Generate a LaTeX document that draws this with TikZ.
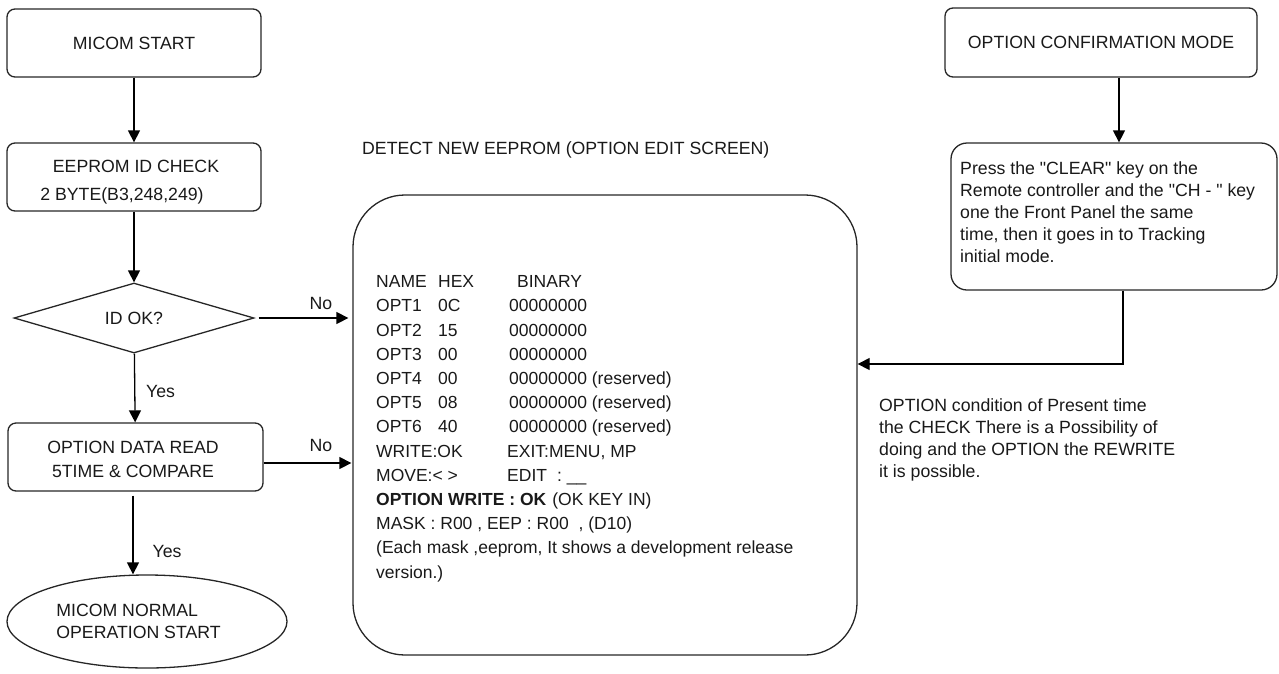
\documentclass[tikz,border=0pt]{standalone}
\usepackage{fontspec}
\setmainfont{Liberation Sans}[Ligatures=TeXOff]
\usetikzlibrary{shapes.geometric,arrows.meta,calc}
\begin{document}
\begin{tikzpicture}[x=1pt,y=-1pt,
  every node/.style={font=\fontsize{17.7}{22}\selectfont, text=black!90, inner sep=0pt},
  box/.style={draw=black!85, line width=1.3pt, rounded corners=8pt, align=center},
  conn/.style={draw=black, line width=1.3pt, -{Triangle[length=12pt,width=12pt]}},
  txt/.style={align=left}
]
\useasboundingbox (0,0) rectangle (1279,673);

% left column
\node[box, minimum width=254pt, minimum height=68pt] (start) at (134,43) {MICOM START};
\node[box, minimum width=254pt, minimum height=68pt] (eeprom) at (134,177) {};
\node[align=center] (eepromtext) at (136,182) {EEPROM ID CHECK\\[6.5pt]\hspace*{-28pt}2 BYTE(B3,248,249)};
\node[draw=black!85, line width=1.3pt, diamond, aspect=3.43, minimum width=240pt, minimum height=70pt] (dia) at (134,318) {ID OK?};
\node[box, minimum width=255pt, minimum height=68pt] (read) at (135.5,457) {};
\node[align=center] (readtext) at (133,459) {OPTION DATA READ\\[2pt]5TIME \& COMPARE};
\node[draw=black!85, line width=1.3pt, ellipse, minimum width=280pt, minimum height=93pt] (ell) at (147,621.5) {};
\node[txt] (elltext) at (138.5,621) {MICOM NORMAL\\OPERATION START};

% big screen box
\node[draw=black!85, line width=1.3pt, rounded corners=52pt, minimum width=504pt, minimum height=460pt] (big) at (605,425) {};
\node[anchor=west] (title) at (362,150) {DETECT NEW EEPROM (OPTION EDIT SCREEN)};
\node[txt, anchor=north west, font=\fontsize{17.5}{24.2}\selectfont] (screen) at (376,275.4) {%
\makebox[62pt][l]{NAME}\makebox[79pt][l]{HEX}BINARY\\
\makebox[62pt][l]{OPT1}\makebox[71pt][l]{0C}00000000\\
\makebox[62pt][l]{OPT2}\makebox[71pt][l]{15}00000000\\
\makebox[62pt][l]{OPT3}\makebox[71pt][l]{00}00000000\\
\makebox[62pt][l]{OPT4}\makebox[71pt][l]{00}00000000 (reserved)\\
\makebox[62pt][l]{OPT5}\makebox[71pt][l]{08}00000000 (reserved)\\
\makebox[62pt][l]{OPT6}\makebox[71pt][l]{40}00000000 (reserved)\\
\makebox[131pt][l]{WRITE:OK}EXIT:MENU, MP\\
\makebox[131pt][l]{MOVE:< >}EDIT\hspace{10pt}: \_\_\\
\textbf{OPTION WRITE : OK}\hspace{6pt}(OK KEY IN)\\
MASK : R00 , EEP : R00\hspace{5pt} , (D10)\\
(Each mask ,eeprom, It shows a development release\\
version.)};

% right column
\node[box, minimum width=312pt, minimum height=69pt] (conf) at (1101,42.5) {OPTION CONFIRMATION MODE};
\node[draw=black!85, line width=1.3pt, rounded corners=16pt, minimum width=326pt, minimum height=147pt] (press) at (1114,216.5) {};
\node[txt, anchor=north west] (presstext) at (960,161) {%
Press the "CLEAR" key on the\\
Remote controller and the "CH - " key\\
one the Front Panel the same\\
time, then it goes in to Tracking\\
initial mode.};
\node[txt, anchor=north west] (note) at (879,398.7) {%
OPTION condition of Present time\\
the CHECK There is a Possibility of\\
doing and the OPTION the REWRITE\\
it is possible.};

\coordinate (c1) at (1119,0);
\coordinate (c2) at (1123,364);

% connectors
\draw[conn] (start) -- (eeprom);
\draw[conn] (eeprom) -- (dia);
\draw[conn, shorten <=4pt, shorten >=4pt] (dia.east) -- (dia.east -| big.west);
\draw[conn] (dia) -- (read);
\draw[conn, shorten >=1pt] ($(read.east)+(0,6)$) -- ($(read.east -| big.west)+(0,6)$);
\draw[conn, shorten <=4pt] ($(read.south)+(-2.5,0)$) -- ($(read.south |- ell.north)+(-2.5,0)$);
\draw[conn] (conf.south -| c1) -- (press.north -| c1);
\draw[conn] (press.south -| c2) |- (c2 -| big.east);

% labels
\node (no1) at (321,303) {No};
\node (no2) at (321,445) {No};
\node (yes1) at (160.5,391.7) {Yes};
\node (yes2) at (167,551.7) {Yes};
\end{tikzpicture}
\end{document}
